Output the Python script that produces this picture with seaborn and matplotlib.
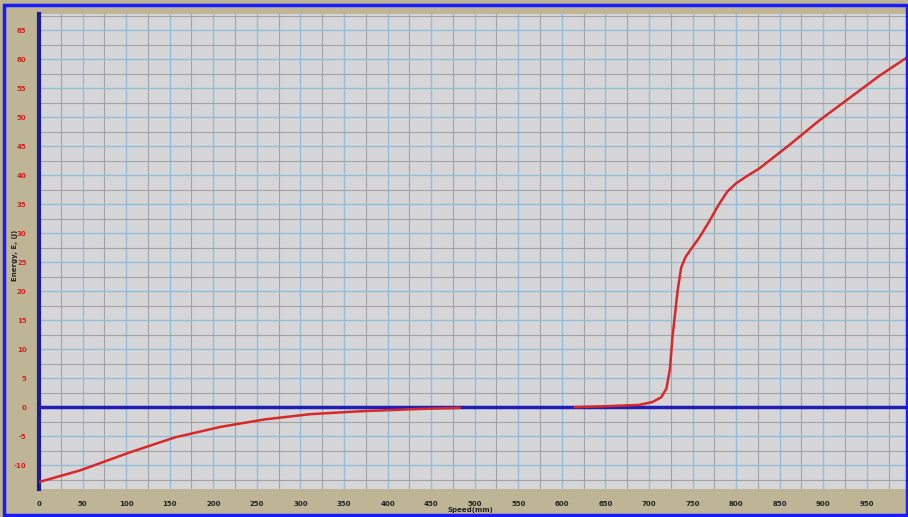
import numpy as np
import pandas as pd
import matplotlib.pyplot as plt
import seaborn as sns
from matplotlib.patches import Rectangle

# Courbe (deux morceaux, trou au milieu)
x_part1 = [0, 47, 104, 156, 208, 259, 311, 368, 437, 483]
y_part1 = [-12.9, -10.9, -7.8, -5.2, -3.4, -2.1, -1.2, -0.7, -0.3, -0.1]
x_part2 = [615, 655, 689, 704, 714, 720, 724, 727, 733, 737, 742, 748, 758, 769,
           780, 790, 800, 812, 827, 861, 896, 930, 965, 996]
y_part2 = [0.0, 0.2, 0.4, 0.9, 1.7, 3.2, 6.5, 12.1, 20.2, 24.1, 25.9, 27.2, 29.3,
           32.0, 34.9, 37.2, 38.6, 39.8, 41.2, 45.2, 49.5, 53.3, 57.2, 60.3]

x_ticks = list(range(0, 1000, 50))
y_ticks = list(range(-10, 70, 5))
x_label = "Speed(mm)"
y_label = "Energy, E, (J)"

df1 = pd.DataFrame({"x": x_part1, "y": y_part1})
df2 = pd.DataFrame({"x": x_part2, "y": y_part2})

sns.set_style("white")
fig = plt.figure(figsize=(9.08, 5.17), dpi=100, facecolor="#bdb595")
ax = fig.add_axes([39 / 908, 1 - 489 / 517, 867 / 908, 475 / 517])
ax.set_facecolor("#d6d6d8")

# grille : bleue sur les graduations, grise entre
for v in x_ticks:
    ax.axvline(v, color="#93bddb", lw=1.0, zorder=1)
    ax.axvline(v + 25, color="#a3a3a3", lw=0.8, zorder=1)
for v in range(-15, 70, 5):
    ax.axhline(v, color="#93bddb", lw=1.0, zorder=1)
    ax.axhline(v + 2.5, color="#a3a3a3", lw=0.8, zorder=1)

ax.axhline(0, color="#1f1fb8", lw=2.5, zorder=3)

sns.lineplot(data=df1, x="x", y="y", color="#d8282a", lw=1.8, ax=ax, zorder=4)
sns.lineplot(data=df2, x="x", y="y", color="#d8282a", lw=1.8, ax=ax, zorder=4)

ax.set_xlim(0, 995)
ax.set_ylim(-14.1, 67.8)
ax.set_xticks(x_ticks)
ax.set_yticks(y_ticks)
ax.set_xticklabels([str(v) for v in x_ticks], fontsize=5, color="#222222",
                   fontweight="bold")
ax.set_yticklabels([str(v) for v in y_ticks], fontsize=5, color="#d42020",
                   fontweight="bold")
ax.tick_params(axis="both", length=3, width=1, color="#333333", pad=6)
ax.set_xlabel("")
ax.set_ylabel("")

for side in ["top", "right", "bottom"]:
    ax.spines[side].set_visible(False)
ax.spines["left"].set_color("#1a1a9a")
ax.spines["left"].set_linewidth(3)

fig.text(470 / 908, 1 - 510 / 517, x_label, fontsize=5, fontweight="bold",
         ha="center", va="center", color="#222222")
fig.text(15 / 908, 1 - 255 / 517, y_label, fontsize=5, fontweight="bold",
         rotation=90, ha="center", va="center", color="#222222")

# cadre bleu autour de l'image
fig.patches.append(Rectangle((4 / 908, 2 / 517), 903 / 908, 510 / 517,
                             transform=fig.transFigure, fill=False,
                             edgecolor="#1a1aff", lw=2.5))

fig.savefig("out.png", dpi=100, facecolor=fig.get_facecolor())
